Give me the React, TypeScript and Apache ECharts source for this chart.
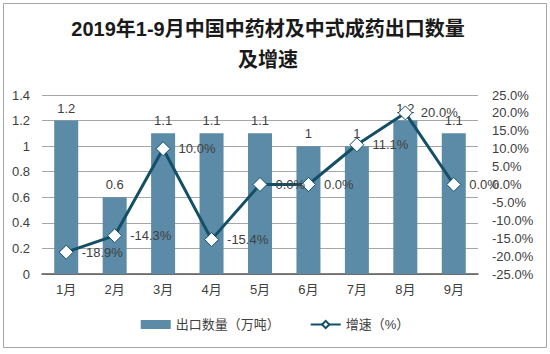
import React, { useEffect, useRef } from "react";
import * as echarts from "echarts";

const categories = ["1月", "2月", "3月", "4月", "5月", "6月", "7月", "8月", "9月"];
const exportVolume = [1.2, 0.6, 1.1, 1.1, 1.1, 1, 1, 1.2, 1.1];
const growthRate = [-18.9, -14.3, 10.0, -15.4, 0.0, 0.0, 11.1, 20.0, 0.0];
const titleText = "2019年1-9月中国中药材及中式成药出口数量\n及增速";
const barName = "出口数量（万吨）";
const lineName = "增速（%）";

const FONT = "Arial, 'Liberation Sans', 'Noto Sans CJK SC', sans-serif";

export default function App() {
  const ref = useRef<HTMLDivElement>(null);
  useEffect(() => {
    if (!ref.current) return;
    const chart = echarts.init(ref.current, null, { renderer: "svg" });
    chart.setOption({
      animation: false,
      backgroundColor: "#ffffff",
      textStyle: { fontFamily: FONT },
      title: {
        text: titleText,
        left: 263,
        textAlign: "center",
        top: 8,
        textStyle: {
          fontSize: 20,
          fontWeight: "bold",
          color: "#1a1a1a",
          lineHeight: 31,
          fontFamily: FONT,
        },
      },
      graphic: [
        {
          type: "rect",
          shape: { x: 3.5, y: 3.5, width: 543, height: 344 },
          style: { fill: "none", stroke: "#a6a6a6", lineWidth: 1 },
          silent: true,
        },
      ],
      legend: {
        bottom: 18,
        left: "center",
        itemGap: 30,
        itemWidth: 30,
        itemHeight: 9,
        textStyle: { fontSize: 13, color: "#404040", fontFamily: FONT },
        data: [
          { name: barName, icon: "rect" },
          { name: lineName },
        ],
      },
      grid: { left: 42, right: 72, top: 95, bottom: 80 },
      xAxis: {
        type: "category",
        data: categories,
        axisTick: { show: false },
        axisLine: { show: true, lineStyle: { color: "#595959", width: 1.5 } },
        axisLabel: { color: "#404040", fontSize: 13, margin: 9 },
      },
      yAxis: [
        {
          type: "value",
          min: 0,
          max: 1.4,
          interval: 0.2,
          axisLine: { show: false },
          axisTick: { show: false },
          splitLine: { lineStyle: { color: "#a6a6a6", width: 1 } },
          axisLabel: {
            color: "#404040",
            fontSize: 13,
            margin: 12,
            formatter: (v: number) => String(Math.round(v * 10) / 10),
          },
        },
        {
          type: "value",
          min: -25,
          max: 25,
          interval: 5,
          axisLine: { show: false },
          axisTick: { show: false },
          splitLine: { show: false },
          axisLabel: {
            color: "#404040",
            fontSize: 13,
            margin: 14,
            formatter: (v: number) => v.toFixed(1) + "%",
          },
        },
      ],
      series: [
        {
          name: barName,
          type: "bar",
          data: exportVolume,
          barWidth: 24,
          itemStyle: { color: "#5b8ba6" },
          label: {
            show: true,
            position: "top",
            color: "#404040",
            fontSize: 13,
            distance: 6,
          },
        },
        {
          name: lineName,
          type: "line",
          yAxisIndex: 1,
          data: growthRate,
          symbol: "diamond",
          symbolSize: 14,
          lineStyle: { color: "#134f66", width: 3 },
          itemStyle: { color: "#ffffff", borderColor: "#134f66", borderWidth: 1 },
          label: {
            show: true,
            position: "right",
            distance: 8,
            color: "#404040",
            fontSize: 13,
            formatter: (p: any) => Number(p.value).toFixed(1) + "%",
          },
        },
      ],
    });
    return () => chart.dispose();
  }, []);
  return (
    <div
      ref={ref}
      style={{ position: "fixed", left: 0, top: 0, width: 550, height: 354 }}
    />
  );
}
